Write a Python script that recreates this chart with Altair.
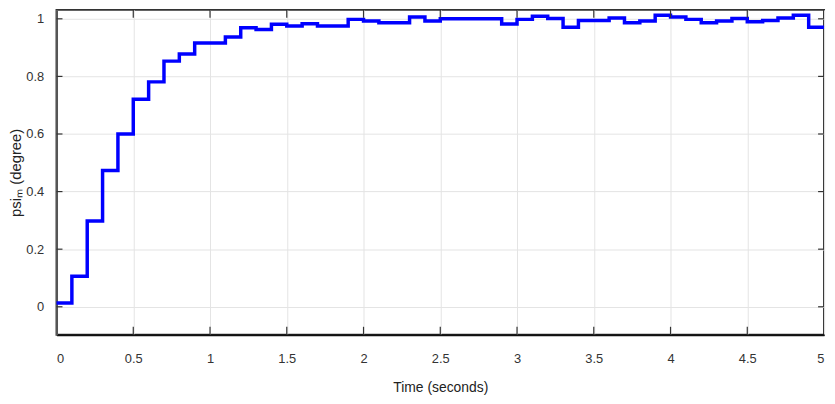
import altair as alt
import pandas as pd

# Step start times (s) and held values of psi_m (degree)
t_start = [round(0.1 * i, 1) for i in range(50)] + [5.0]
psi = [0.013, 0.106, 0.298, 0.473, 0.600, 0.721, 0.781, 0.853, 0.878, 0.916,
       0.916, 0.937, 0.969, 0.963, 0.981, 0.975, 0.983, 0.975, 0.975, 0.998,
       0.992, 0.986, 0.986, 1.006, 0.992, 1.000, 1.000, 1.000, 1.000, 0.982,
       0.998, 1.009, 1.001, 0.971, 0.994, 0.994, 1.003, 0.986, 0.992, 1.012,
       1.006, 0.998, 0.986, 0.992, 1.001, 0.990, 0.994, 1.003, 1.012, 0.971]
psi = psi + [psi[-1]]

x_ticks = [0, 0.5, 1, 1.5, 2, 2.5, 3, 3.5, 4, 4.5, 5]
y_ticks = [0, 0.2, 0.4, 0.6, 0.8, 1]

df = pd.DataFrame({"t": t_start, "psi": psi})
xt = pd.DataFrame({"v": x_ticks[1:-1]})
yt = pd.DataFrame({"v": y_ticks})

W, H = 775, 328
FONT = "Liberation Sans Narrow, Liberation Sans, Arial"

xscale = alt.Scale(domain=[0, 5], nice=False, zero=False)
yscale = alt.Scale(domain=[-0.097, 1.031], nice=False, zero=False)

common = dict(grid=True, gridColor="#e4e4e4", ticks=False,
              labelFont=FONT, titleFont=FONT, labelFontSize=13,
              labelColor="#333333", titleColor="#222222", titleFontWeight="normal")

line = alt.Chart(df).mark_line(interpolate="step-after", color="#0000ff",
                               strokeWidth=3.5).encode(
    x=alt.X("t:Q", scale=xscale,
            axis=alt.Axis(values=x_ticks, format="~g", title="Time (seconds)",
                          domainColor="#111111", domainWidth=2, titleFontSize=14,
                          labelPadding=18, titlePadding=15, **common)),
    y=alt.Y("psi:Q", scale=yscale,
            axis=alt.Axis(values=y_ticks, format="~g", title="psiₘ (degree)",
                          domainColor="#555555", domainWidth=2, titleFontSize=15,
                          labelPadding=13, titlePadding=2, **common)),
)

bottom_ticks = alt.Chart(xt).mark_rule(color="#333333", strokeWidth=1.2).encode(
    x=alt.X("v:Q", scale=xscale), y=alt.value(H), y2=alt.value(H - 8))
top_ticks = alt.Chart(xt).mark_rule(color="#333333", strokeWidth=1.2).encode(
    x=alt.X("v:Q", scale=xscale), y=alt.value(0), y2=alt.value(8))
left_ticks = alt.Chart(yt).mark_rule(color="#333333", strokeWidth=1.2).encode(
    y=alt.Y("v:Q", scale=yscale), x=alt.value(0), x2=alt.value(6))
right_ticks = alt.Chart(yt).mark_rule(color="#333333", strokeWidth=1.2).encode(
    y=alt.Y("v:Q", scale=yscale), x=alt.value(W), x2=alt.value(W - 6))

chart = alt.layer(line, bottom_ticks, top_ticks, left_ticks, right_ticks).properties(
    width=W, height=H,
    autosize=alt.AutoSizeParams(type="none"),
    padding={"left": 49, "top": 0, "right": 3, "bottom": 60},
    background="white",
).configure_view(
    stroke="#333333", strokeWidth=2
)

chart.save("out.html", embed_options={"renderer": "svg", "actions": False})
